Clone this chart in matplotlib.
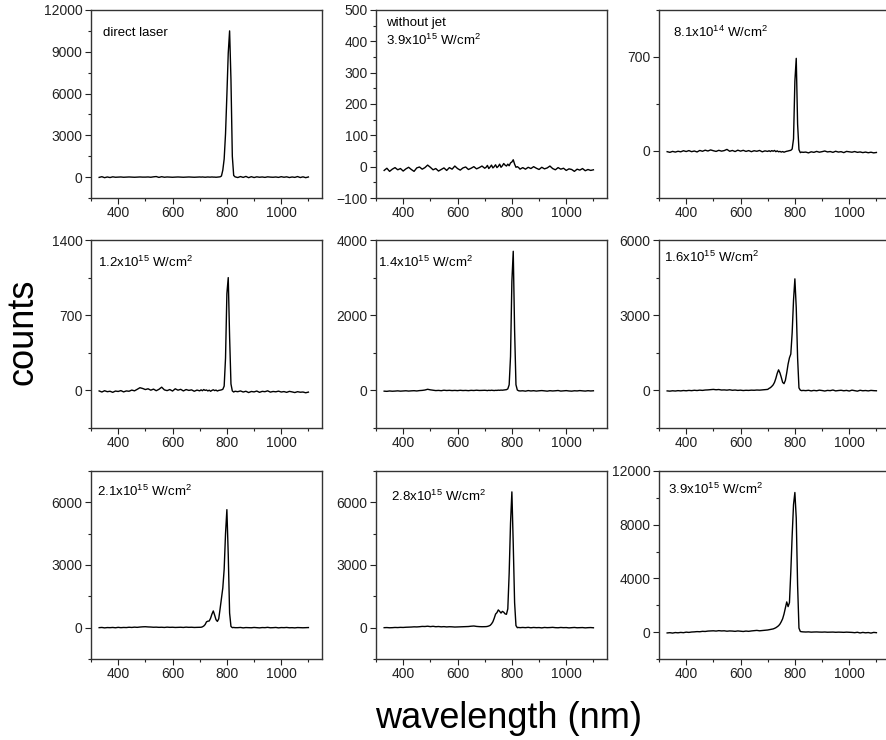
import numpy as np
import matplotlib
matplotlib.use('Agg')
import matplotlib.pyplot as plt
from matplotlib.ticker import MultipleLocator, FixedLocator

plt.rcParams['font.family'] = ['Liberation Sans', 'DejaVu Sans']
plt.rcParams['mathtext.default'] = 'regular'

# wavelength samples (nm), shared by all spectra
wl = [330, 340, 350, 360, 370, 380, 390, 400, 410, 420, 430, 440, 450, 460, 470,
      480, 490, 500, 510, 520, 530, 540, 550, 560, 570, 580, 590, 600, 610, 620,
      630, 640, 650, 660, 670, 680, 690, 700,
      705, 710, 715, 720, 725, 730, 735, 740, 745, 750, 755, 760, 765, 770, 775,
      780, 785, 790, 795, 800, 805, 810, 815, 820, 825, 830,
      840, 850, 860, 870, 880, 890, 900, 910, 920, 930, 940, 950, 960, 970, 980,
      990, 1000, 1010, 1020, 1030, 1040, 1050, 1060, 1070, 1080, 1090, 1100]

laser = ([-20, 30, -40, 10, -30, 20, -10, 0, 10, -10, 0, 10, 0, -10, 0, 10, 0, 0, 10, -10,
          20, 40, -20, 30, -10, 10, 0, -10, 0, 10, 0, -10, 0, 10, 0, -10, 0, 10]
         + [0, 10, 0, -10, 0, 10, 0, 0, 10, 0, 0, -10, 0, 10, 20, 80, 500, 1300, 3100, 5900,
            8900, 10500, 7000, 1500, 120, 20]
         + [-30, 40, -20, 50, -40, 30, -30, 20, -10, 10, -20, 20, 0, -10, 10, -20, 30, -10,
            20, -30, 10, -20, 40, -30, 20, -40, 10])

no_jet = ([-12, -5, -15, -8, -3, -10, -6, -14, -7, -2, -9, -15, -4, -1, -8, -3, 5, -2, -10,
           -6, -14, -9, -4, -12, -3, -8, 2, -6, -11, -4, -1, -9, -5, 0, -7, -3, 2, -5]
          + [-2, 4, -6, -1, 5, -4, 0, 6, -3, 1, 8, -2, 3, 10, 5, 2, 8, 3, 12, 15, 22, 8, -2,
             0, -3, -8]
          + [-3, -8, -2, -6, 0, -5, -9, -2, -7, -4, 2, -6, -10, -3, -8, -5, -12, -7, -9, -15,
             -8, -11, -6, -13, -9, -12, -10])

i81e14 = ([-5, -10, -3, -8, -2, -6, 2, -4, 3, -5, 0, -7, 4, -2, 6, 0, 8, 2, -3, 5, -1, 3,
           12, -2, 4, -4, 6, -1, 5, -3, 3, -5, 2, -2, 4, -6, 1, -3]
          + [2, -4, 3, -2, 4, -5, 1, -6, -3, -8, -4, -9, -5, -2, 0, 3, 5, 15, 90, 520, 690,
             200, 10, -12, -8, -10]
          + [-8, -14, -6, -10, -3, -9, -5, 0, -7, -4, -10, -2, -8, -5, -12, -3, -6, -9, -4,
             -10, -7, -12, -8, -13, -9, -14, -11])

i12e15 = ([-5, -15, -3, -12, -8, -18, -6, -10, -2, -14, -5, -8, 3, -4, 10, 25, 18, 8, 15, 2,
           12, -3, 10, 30, 5, -2, 8, -6, 15, 2, 10, -5, 8, 0, 5, -8, 3, -4]
          + [5, -3, 8, 0, 4, -5, 2, -8, 0, 6, -2, 3, -6, 0, 2, 5, 10, 40, 300, 900, 1050, 500,
             60, -5, -15, -8]
          + [-12, -5, -15, -8, -20, -10, -14, -6, -18, -9, -12, -4, -16, -10, -13, -7, -15,
             -11, -18, -9, -14, -20, -12, -17, -15, -22, -16])

i14e15 = ([-20, -25, -15, -22, -18, -12, -20, -15, -10, -18, -12, -8, -15, -5, 0, 10, 30, 15,
           5, -5, 0, -8, 5, -3, 2, -5, 0, -6, 3, -4, 0, -7, 2, -3, 5, -2, 0, 3]
          + [0, -5, 3, -2, 5, 0, -4, 2, 0, 6, 3, 8, 5, 10, 15, 20, 40, 150, 900, 2900, 3700,
             1600, 150, 10, -10, -15]
          + [-10, -20, -5, -15, -8, -18, -10, -5, -12, -20, -8, -15, -10, -3, -18, -12, -6,
             -15, -20, -10, -14, -5, -12, -18, -8, -15, -10])

i16e15 = ([-20, -30, -15, -25, -10, -20, -5, -15, 0, -10, 5, -5, 10, 0, 15, 20, 30, 40, 25,
           35, 15, 20, 10, 25, 5, 15, 0, 10, -5, 5, 0, 10, 5, 15, 10, 20, 30, 40]
          + [80, 110, 160, 220, 320, 480, 680, 820, 700, 520, 320, 270, 400, 700, 1050, 1300,
             1450, 2300, 3600, 4450, 3300, 1300, 100, 10, -10, 0]
          + [-10, 5, -20, 0, -15, 10, -5, -25, 0, -10, 15, -20, -5, 5, -15, 0, -25, 10, -10,
             -30, 5, -15, -5, -20, 0, -10, -15])

i21e15 = ([0, 10, -10, 5, 0, 10, -5, 15, 0, 10, 5, 20, 10, 25, 15, 30, 40, 45, 35, 30, 20,
           25, 15, 20, 10, 25, 15, 20, 10, 15, 20, 10, 25, 15, 20, 10, 15, 18]
          + [20, 40, 80, 150, 280, 310, 320, 450, 650, 800, 600, 380, 300, 420, 900, 1400,
             1900, 2800, 4500, 5650, 3500, 700, 60, 0, 10, 0]
          + [0, 10, -10, 5, 0, -5, 10, 0, -10, 5, 0, 15, -5, 0, 10, -10, 5, 0, 10, -5, 0, -10,
             5, 0, -5, 0, 5])

i28e15 = ([0, 5, -5, 0, 10, 5, 15, 10, 20, 25, 30, 40, 35, 45, 60, 55, 70, 50, 65, 45, 55,
           40, 50, 35, 45, 40, 30, 35, 40, 45, 50, 55, 70, 80, 60, 50, 45, 48]
          + [50, 60, 80, 110, 180, 280, 450, 650, 720, 850, 780, 700, 780, 740, 660, 640, 900,
             2600, 5000, 6500, 4000, 1200, 100, 0, 10, 0]
          + [10, 0, 15, -5, 10, 0, 5, -10, 10, 0, 5, 15, 0, -5, 10, 0, 5, -10, 0, 10, -5, 0, 5,
             -10, 0, 5, -5])

i39e15 = ([-60, -40, -70, -30, -50, -20, -40, 0, -20, 10, 20, 40, 30, 60, 50, 80, 90, 100,
           80, 110, 90, 100, 70, 90, 80, 60, 90, 70, 50, 80, 60, 90, 110, 130, 100, 120, 140,
           160]
          + [180, 200, 220, 240, 280, 330, 400, 480, 600, 780, 1000, 1350, 1800, 2250, 1900,
             2200, 4500, 7200, 9500, 10400, 8500, 3500, 300, 50, 30, 20]
          + [10, 20, 0, 10, 15, 5, 0, 10, -5, 0, 5, -10, 0, -5, -15, 0, -10, -20, -40, -10,
             -60, -20, -50, -30, -70, -20, -40])

spectra = [laser, no_jet, i81e14, i12e15, i14e15, i16e15, i21e15, i28e15, i39e15]
labels = ['direct laser',
          'without jet\n3.9x10$^{15}$ W/cm$^{2}$',
          '8.1x10$^{14}$ W/cm$^{2}$',
          '1.2x10$^{15}$ W/cm$^{2}$',
          '1.4x10$^{15}$ W/cm$^{2}$',
          '1.6x10$^{15}$ W/cm$^{2}$',
          '2.1x10$^{15}$ W/cm$^{2}$',
          '2.8x10$^{15}$ W/cm$^{2}$',
          '3.9x10$^{15}$ W/cm$^{2}$']
ylims = [(-1500, 12000), (-100, 500), (-350, 1050), (-350, 1400), (-1000, 4000),
         (-1500, 6000), (-1500, 7500), (-1500, 7500), (-2000, 12000)]
yticks = [[0, 3000, 6000, 9000, 12000], [-100, 0, 100, 200, 300, 400, 500], [0, 700],
          [0, 700, 1400], [0, 2000, 4000], [0, 3000, 6000], [0, 3000, 6000],
          [0, 3000, 6000], [0, 4000, 8000, 12000]]
yminor = [1500, 50, 350, 350, 1000, 1500, 1500, 1500, 2000]
label_pos = [(0.05, 0.88), (0.043, 0.88), (0.06, 0.88), (0.03, 0.88), (0.01, 0.88),
             (0.02, 0.91), (0.026, 0.89), (0.065, 0.865), (0.04, 0.90)]

W, H = 886, 740
fig = plt.figure(figsize=(W / 100, H / 100), dpi=100)

col_left = [91, 376, 659]
row_top = [10, 240, 471]
aw, ah = 231, 188

for k in range(9):
    r, c = divmod(k, 3)
    ax = fig.add_axes([col_left[c] / W, 1 - (row_top[r] + ah) / H, aw / W, ah / H])
    y = np.array(spectra[k])
    assert len(y) == len(wl)
    ax.plot(wl, y, color='black', lw=1.0)
    ax.set_xlim(300, 1150)
    ax.set_ylim(*ylims[k])
    ax.xaxis.set_major_locator(FixedLocator([400, 600, 800, 1000]))
    ax.xaxis.set_minor_locator(MultipleLocator(100))
    ax.yaxis.set_major_locator(FixedLocator(yticks[k]))
    ax.yaxis.set_minor_locator(MultipleLocator(yminor[k]))
    ax.tick_params(which='both', direction='out', width=0.8, colors='#222222',
                   labelsize=10, pad=2, top=False, right=False)
    ax.tick_params(which='major', length=4)
    ax.tick_params(which='minor', length=2.5)
    for s in ax.spines.values():
        s.set_linewidth(1.0)
        s.set_color('#333333')
    ax.text(label_pos[k][0], label_pos[k][1], labels[k], transform=ax.transAxes,
            fontsize=9.5, ha='left', va='center', linespacing=1.3)

fig.text(509 / W, 1 - 718 / H, 'wavelength (nm)', ha='center', va='center', fontsize=26)
fig.text(23 / W, 1 - 332 / H, 'counts', ha='center', va='center', rotation=90,
         fontsize=26)

fig.savefig('out.png', dpi=100)
